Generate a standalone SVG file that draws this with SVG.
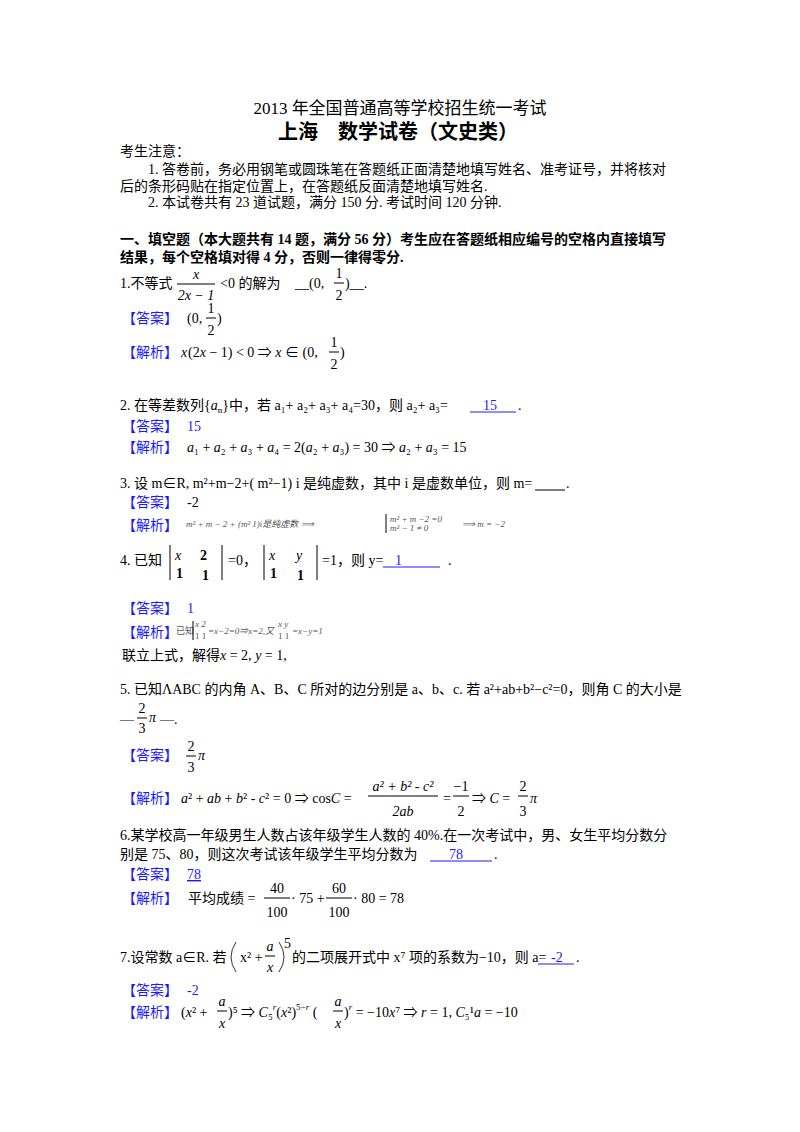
<svg xmlns="http://www.w3.org/2000/svg" width="800" height="1132" viewBox="0 0 800 1132">
<style>
text{font-family:"Liberation Serif","Noto Sans CJK SC",serif;font-size:14px;fill:#000}
.t{font-size:17px}
.h{font-size:20px;font-weight:bold}
.b{font-weight:bold}
.k{fill:#1a1aff}
.m{font-style:italic}
.c{text-anchor:middle}
.s{font-size:9px;fill:#555}
line{stroke:#000;stroke-width:1}
.u{stroke:#1a1aff}
</style>
<rect width="800" height="1132" fill="#fff"/>
<text class="t c" x="400" y="114">2013 年全国普通高等学校招生统一考试</text>
<text class="h c" x="398" y="139">上海　数学试卷（文史类）</text>
<text x="120" y="156">考生注意：</text>
<text x="148" y="174">1. 答卷前，务必用钢笔或圆珠笔在答题纸正面清楚地填写姓名、准考证号，并将核对</text>
<text x="120" y="191">后的条形码贴在指定位置上，在答题纸反面清楚地填写姓名.</text>
<text x="148" y="207">2. 本试卷共有 23 道试题，满分 150 分. 考试时间 120 分钟.</text>
<text class="b" x="120" y="244">一、填空题（本大题共有 14 题，满分 56 分）考生应在答题纸相应编号的空格内直接填写</text>
<text class="b" x="120" y="262">结果，每个空格填对得 4 分，否则一律得零分.</text>

<!-- Q1 -->
<text x="120" y="288">1.不等式</text>
<text class="m c" x="196" y="279">x</text><line x1="177" y1="284" x2="215" y2="284"/><text class="m c" x="196" y="300">2x − 1</text>
<text x="220" y="288">&lt;0 的解为</text>
<text x="295" y="288">__(0,</text><text class="c" x="339" y="278">1</text><line x1="334" y1="283" x2="344" y2="283"/><text class="c" x="339" y="300">2</text><text x="345" y="288">)__.</text>
<text class="k" x="122" y="323">【答案】</text>
<text x="187" y="323">(0,</text><text class="c" x="211" y="313">1</text><line x1="206" y1="318" x2="216" y2="318"/><text class="c" x="211" y="335">2</text><text x="217" y="323">)</text>
<text class="k" x="122" y="357">【解析】</text>
<text class="m" x="181" y="357">x</text><text x="188" y="357">(2<tspan class="m">x</tspan> − 1) &lt; 0 ⇒ <tspan class="m">x</tspan> ∈ (0,</text><text class="c" x="334" y="347">1</text><line x1="329" y1="352" x2="339" y2="352"/><text class="c" x="334" y="369">2</text><text x="340" y="357">)</text>

<!-- Q2 -->
<text x="120" y="410">2. 在等差数列{<tspan class="m">a</tspan><tspan font-size="9" dy="3">n</tspan><tspan dy="-3">}中，若 a₁+ a₂+ a₃+ a₄=30，则 a₂+ a₃=</tspan></text>
<text class="k" x="483" y="410">15</text><line class="u" x1="470" y1="412" x2="516" y2="412"/><text x="518" y="410">.</text>
<text class="k" x="122" y="431">【答案】</text><text class="k" x="187" y="431">15</text>
<text class="k" x="122" y="452">【解析】</text>
<text x="187" y="452"><tspan class="m">a</tspan>₁ + <tspan class="m">a</tspan>₂ + <tspan class="m">a</tspan>₃ + <tspan class="m">a</tspan>₄ = 2(<tspan class="m">a</tspan>₂ + <tspan class="m">a</tspan>₃) = 30 ⇒ <tspan class="m">a</tspan>₂ + <tspan class="m">a</tspan>₃ = 15</text>

<!-- Q3 -->
<text x="120" y="488">3. 设 m∈R, m²+m−2+( m²−1) i 是纯虚数，其中 i 是虚数单位，则 m=</text><line x1="535" y1="490" x2="565" y2="490"/><text x="566" y="488">.</text>
<text class="k" x="122" y="507">【答案】</text><text x="187" y="507">-2</text>
<text class="k" x="122" y="530">【解析】</text>
<text class="s m" x="186" y="527">m²  +  m   −  2  + (m²    1)i是纯虚数 ⟹</text>
<text class="s m" x="390" y="522">m²  +  m    −2    =0</text><text class="s m" x="390" y="531">m²  − 1 ≠ 0</text><text class="s m" x="462" y="527">⟹  m     =  −2</text>
<line x1="386" y1="514" x2="386" y2="533" stroke="#555"/>

<!-- Q4 -->
<text x="120" y="565">4. 已知</text>
<line x1="170" y1="545" x2="170" y2="580" stroke-width="1.5"/><line x1="222" y1="545" x2="222" y2="580" stroke-width="1.5"/>
<text class="m" x="175" y="560" font-size="18">x</text><text x="200" y="560" font-size="18" font-weight="bold">2</text><text x="176" y="578" font-size="16" font-weight="bold">1</text><text x="202" y="580" font-size="16" font-weight="bold">1</text>
<text x="228" y="565">=0，</text>
<line x1="264" y1="545" x2="264" y2="580" stroke-width="1.5"/><line x1="317" y1="545" x2="317" y2="580" stroke-width="1.5"/>
<text class="m" x="269" y="560" font-size="18">x</text><text class="m" x="296" y="560" font-size="18">y</text><text x="270" y="578" font-size="16" font-weight="bold">1</text><text x="297" y="580" font-size="16" font-weight="bold">1</text>
<text x="322" y="565">=1，则 y=</text>
<text class="k" x="395" y="565">1</text><line class="u" x1="383" y1="567" x2="440" y2="567"/><text x="448" y="565">.</text>
<text class="k" x="122" y="613">【答案】</text><text class="k" x="187" y="613">1</text>
<text class="k" x="122" y="637">【解析】</text>
<text class="s" x="176" y="634" font-size="8">已知</text><line x1="193" y1="621" x2="193" y2="640" stroke="#555" stroke-width="0.6"/>
<text class="s m" x="195" y="627" font-size="7">x  2</text><text class="s" x="195" y="639" font-size="7">1  1</text>
<text class="s m" x="208" y="634" font-size="7">=x−2=0⇒x=2,又</text>
<text class="s m" x="278" y="627" font-size="7">x  y</text><text class="s" x="278" y="639" font-size="7">1 1</text>
<text class="s m" x="292" y="634" font-size="7">=x−y=1</text>

<text x="122" y="660">联立上式，解得<tspan class="m">x</tspan> = 2, <tspan class="m">y</tspan> = 1,</text>

<!-- Q5 -->
<text x="120" y="694">5. 已知ΛABC 的内角 A、B、C 所对的边分别是 a、b、c. 若 a²+ab+b²−c²=0，则角 C 的大小是</text>
<text x="120" y="724">—</text><text class="c" x="142" y="713">2</text><line x1="137" y1="718" x2="147" y2="718"/><text class="c" x="142" y="733">3</text><text class="m" x="149" y="722">π</text><text x="160" y="724">—.</text>
<text class="k" x="122" y="760">【答案】</text>
<text class="c" x="191" y="751">2</text><line x1="186" y1="756" x2="196" y2="756"/><text class="c" x="191" y="772">3</text><text class="m" x="198" y="760">π</text>
<text class="k" x="122" y="803">【解析】</text>
<text x="181" y="803"><tspan class="m">a</tspan>² + <tspan class="m">ab</tspan> + <tspan class="m">b</tspan>² - <tspan class="m">c</tspan>² = 0 ⇒ cos<tspan class="m">C</tspan> =</text>
<text class="c m" x="403" y="791">a² + b² - c²</text><line x1="368" y1="796" x2="438" y2="796"/><text class="c m" x="403" y="816">2ab</text>
<text x="443" y="803">=</text>
<text class="c" x="461" y="791">−1</text><line x1="453" y1="796" x2="469" y2="796"/><text class="c" x="461" y="816">2</text>
<text x="472" y="803">⇒ <tspan class="m">C</tspan> =</text>
<text class="c" x="523" y="791">2</text><line x1="518" y1="796" x2="528" y2="796"/><text class="c" x="523" y="816">3</text><text class="m" x="530" y="803">π</text>

<!-- Q6 -->
<text x="120" y="840">6.某学校高一年级男生人数占该年级学生人数的 40%.在一次考试中，男、女生平均分数分</text>
<text x="120" y="859">别是 75、80，则这次考试该年级学生平均分数为</text>
<text class="k" x="449" y="859">78</text><line class="u" x1="430" y1="861" x2="492" y2="861"/><text x="494" y="859">.</text>
<text class="k" x="122" y="879">【答案】</text><text class="k" x="187" y="879" text-decoration="underline">78</text>
<text class="k" x="122" y="903">【解析】</text>
<text x="188" y="903">平均成绩 =</text>
<text class="c" x="277" y="893">40</text><line x1="264" y1="898" x2="290" y2="898"/><text class="c" x="277" y="917">100</text>
<text x="291" y="903">· 75 +</text>
<text class="c" x="339" y="893">60</text><line x1="326" y1="898" x2="352" y2="898"/><text class="c" x="339" y="917">100</text>
<text x="353" y="903">· 80 = 78</text>

<!-- Q7 -->
<text x="120" y="962">7.设常数 a∈R. 若</text>
<path d="M236 942 Q226 957 236 972" fill="none" stroke="#000" stroke-width="0.8"/>
<text x="240" y="962">x² +</text>
<text class="c m" x="270" y="951">a</text><line x1="265" y1="956" x2="275" y2="956"/><text class="c m" x="270" y="972">x</text>
<path d="M279 942 Q289 957 279 972" fill="none" stroke="#000" stroke-width="0.8"/>
<text x="284" y="948" font-size="8">5</text>
<text x="292" y="962">的二项展开式中 x⁷ 项的系数为−10，则 a=</text>
<text class="k" x="551" y="962">-2</text><line class="u" x1="538" y1="964" x2="574" y2="964"/><text x="576" y="962">.</text>
<text class="k" x="122" y="995">【答案】</text><text class="k" x="187" y="995">-2</text>
<text class="k" x="122" y="1017">【解析】</text>
<text x="181" y="1017">(<tspan class="m">x</tspan>² +</text>
<text class="c m" x="222" y="1006">a</text><line x1="217" y1="1011" x2="227" y2="1011"/><text class="c m" x="222" y="1028">x</text>
<text x="228" y="1017">)⁵ ⇒ <tspan class="m">C</tspan>₅<tspan font-size="9" dy="-7" class="m">r</tspan><tspan dy="7">(<tspan class="m">x</tspan>²)</tspan><tspan font-size="9" dy="-7">5−<tspan class="m">r</tspan></tspan><tspan dy="7"> (</tspan></text>
<text class="c m" x="338" y="1006">a</text><line x1="333" y1="1011" x2="343" y2="1011"/><text class="c m" x="338" y="1028">x</text>
<text x="344" y="1017">)<tspan font-size="9" dy="-7" class="m">r</tspan><tspan dy="7"> = −10<tspan class="m">x</tspan>⁷ ⇒ <tspan class="m">r</tspan> = 1, <tspan class="m">C</tspan>₅¹<tspan class="m">a</tspan> = −10</tspan></text>
</svg>
